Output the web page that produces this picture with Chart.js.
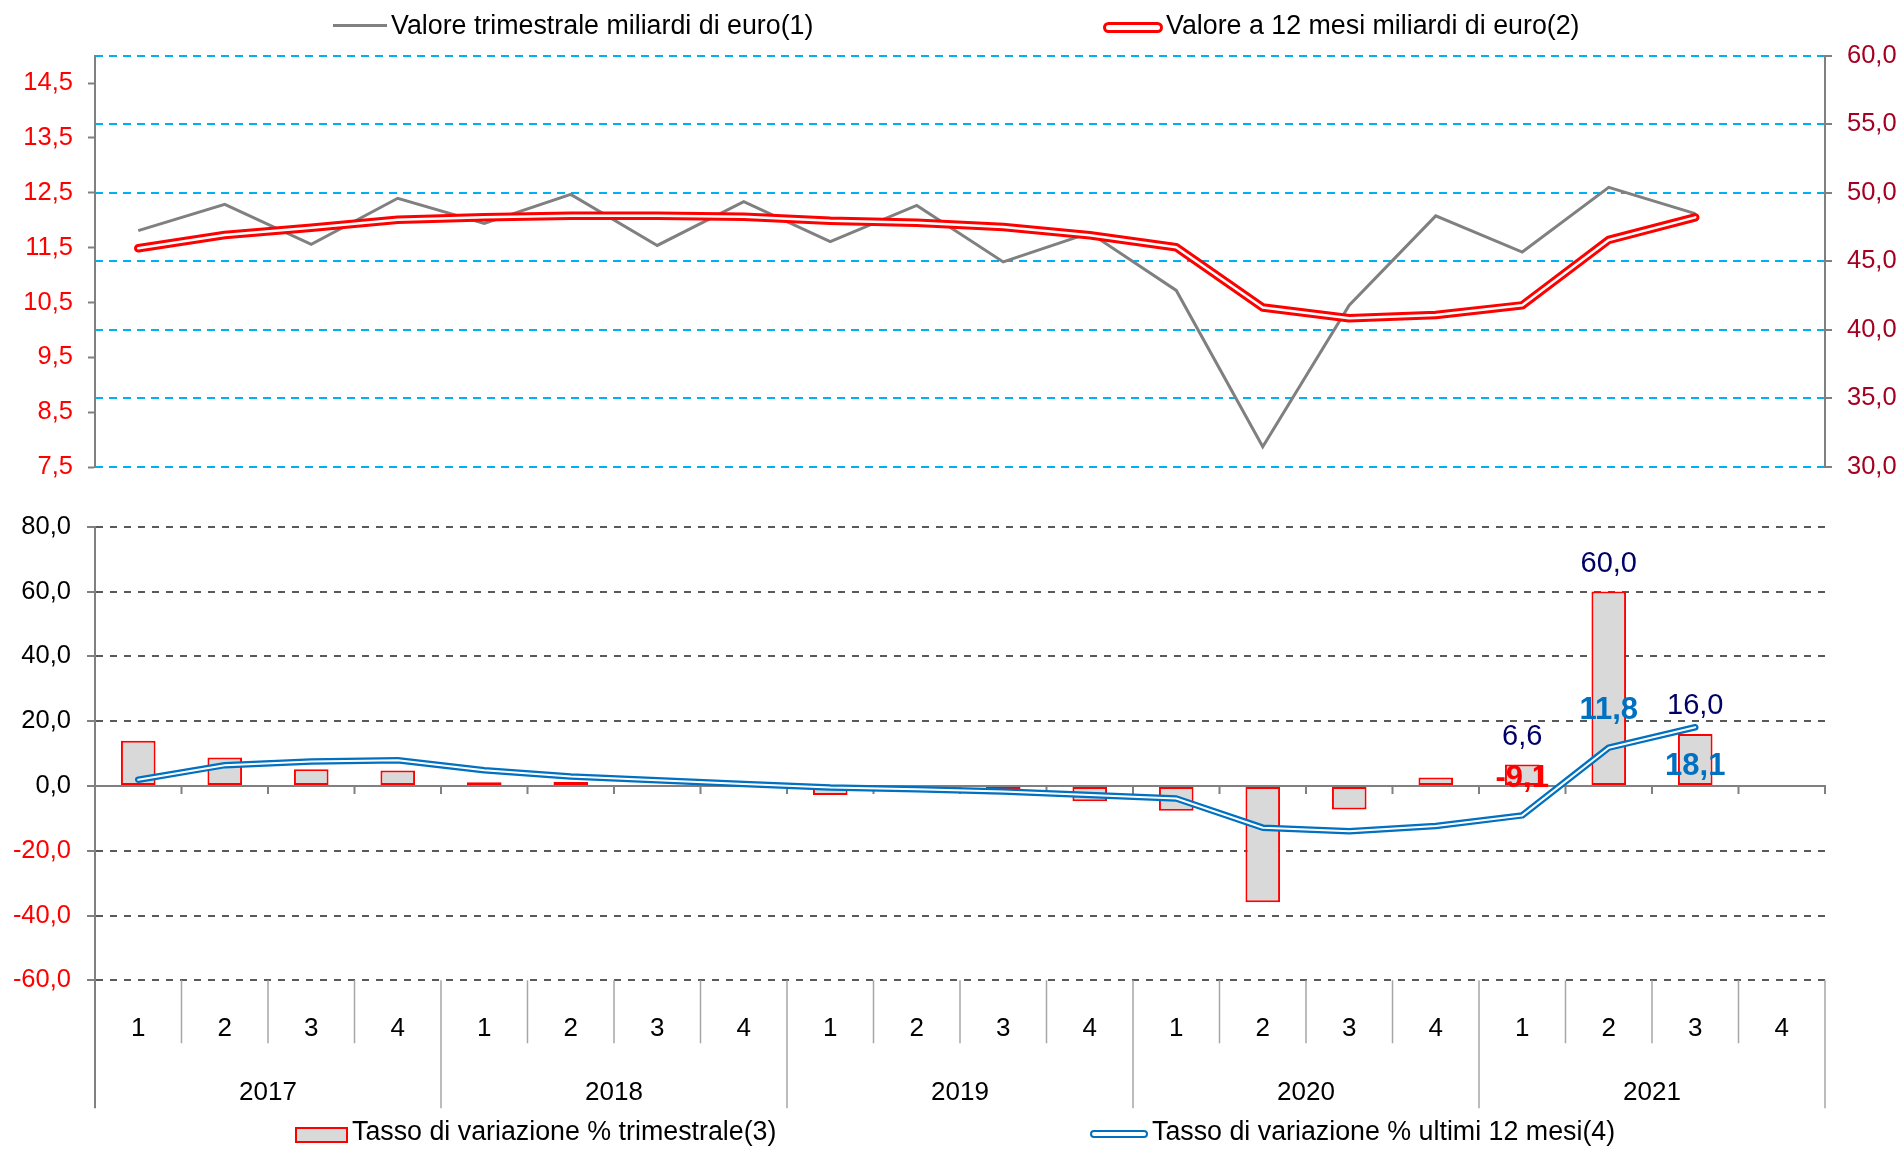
<!DOCTYPE html>
<html>
<head>
<meta charset="utf-8">
<script src="https://cdn.jsdelivr.net/npm/chart.js@4.4.1/dist/chart.umd.min.js"></script>
<style>
  body { margin: 0; background: #fff; font-family: "Liberation Sans", Arial, sans-serif; }
  #wrap { position: relative; width: 1903px; height: 1149px; overflow: hidden; }
  canvas { position: absolute; left: 0; }
  #top { top: 0; }
  #bottom { top: 490px; }
  .leg { position: absolute; font-size: 26.8px; line-height: 30px; color: #000; white-space: nowrap; }
  .mk { position: absolute; box-sizing: border-box; }
</style>
</head>
<body>
<div id="wrap">
  <canvas id="top" width="1903" height="500"></canvas>
  <canvas id="bottom" width="1903" height="659"></canvas>

  <div class="mk" style="left:333px;top:24px;width:54px;height:3px;background:#808080"></div>
  <div class="leg" style="left:391px;top:10px">Valore trimestrale miliardi di euro(1)</div>
  <div class="mk" style="left:1103px;top:22px;width:60px;height:11px;border:3.5px solid #ff0000;border-radius:6px;background:#fff"></div>
  <div class="leg" style="left:1166px;top:10px">Valore a 12 mesi miliardi di euro(2)</div>

  <div class="mk" style="left:295px;top:1127px;width:53px;height:16px;border:2px solid #ff0000;background:#d9d9d9"></div>
  <div class="leg" style="left:352px;top:1116px">Tasso di variazione % trimestrale(3)</div>
  <div class="mk" style="left:1090px;top:1130px;width:58px;height:8px;border:2.5px solid #0070c0;border-radius:4px;background:#fff"></div>
  <div class="leg" style="left:1152px;top:1116px">Tasso di variazione % ultimi 12 mesi(4)</div>
</div>

<script>
// categorie: trimestri 2017-2021
const years = ["2017", "2018", "2019", "2020", "2021"];
const quarters = ["1", "2", "3", "4"];
const categories = years.flatMap((y) => quarters.map((q) => y + " T" + q));

// valore trimestrale, miliardi di euro (asse sinistro)
const valoreTrim = [11.81, 12.29, 11.56, 12.40, 11.94, 12.47, 11.54, 12.34, 11.61, 12.27,
  11.24, 11.77, 10.72, 7.87, 10.45, 12.08, 11.42, 12.60, 12.12, null];
// valore a 12 mesi, miliardi di euro (asse destro)
const valore12 = [45.95, 46.92, 47.45, 48.04, 48.21, 48.33, 48.33, 48.26, 47.97, 47.82,
  47.5, 46.9, 46.03, 41.63, 40.85, 41.09, 41.79, 46.56, 48.21, null];
// tasso di variazione % trimestrale (barre)
const tassoTrim = [13.9, 8.75, 5.15, 4.74, 1.13, 1.24, -0.2, -0.3, -2.8, -1.4,
  -2.6, -4.7, -7.7, -35.9, -7.3, 2.6, 6.6, 60.0, 16.0, null];
// tasso di variazione % ultimi 12 mesi (linea)
const tasso12 = [1.9, 6.4, 7.5, 7.9, 4.8, 2.9, 1.75, 0.6, -0.5, -1.0,
  -1.75, -2.8, -3.9, -12.9, -14.0, -12.4, -9.1, 11.8, 18.1, null];

// tick labels
const leftTicks = [7.5, 8.5, 9.5, 10.5, 11.5, 12.5, 13.5, 14.5];
// punti con etichetta
const labelled = [16, 17, 18];

const FONT = '"Liberation Sans", Arial, sans-serif';
const fmt = (v) => v.toFixed(1).replace(".", ",");

Chart.defaults.font.family = FONT;

// ---------- grafico superiore ----------
new Chart(document.getElementById("top"), {
  type: "line",
  data: {
    labels: categories,
    datasets: [
      { data: valore12, yAxisID: "yR", borderColor: "#ffffff", borderWidth: 2.5, order: 0 },
      { data: valore12, yAxisID: "yR", borderColor: "#ff0000", borderWidth: 8.5, order: 1 },
      { data: valoreTrim, yAxisID: "yL", borderColor: "#808080", borderWidth: 3, order: 2, borderCapStyle: "butt", borderJoinStyle: "miter" },
    ],
  },
  options: {
    responsive: false,
    animation: false,
    devicePixelRatio: 1,
    events: [],
    layout: { padding: { top: 55.7, bottom: 33, left: 0, right: 0 } },
    elements: {
      point: { radius: 0 },
      line: { tension: 0, borderCapStyle: "round", borderJoinStyle: "round" },
    },
    plugins: { legend: { display: false }, tooltip: { enabled: false } },
    scales: {
      x: { type: "category", offset: true, display: false },
      yL: {
        position: "left",
        min: 7.5,
        max: 15,
        afterBuildTicks: (s) => { s.ticks = leftTicks.map((v) => ({ value: v })); },
        afterFit: (s) => { s.width = 95; },
        grid: { drawOnChartArea: false, tickLength: 7, tickColor: "#808080", tickWidth: 2 },
        border: { color: "#808080", width: 2 },
        ticks: { color: "#ff0000", font: { size: 25.5 }, padding: 15, callback: (v) => fmt(v) },
      },
      yR: {
        position: "right",
        min: 30,
        max: 60,
        afterFit: (s) => { s.width = 78; },
        grid: { color: "#00b0f0", lineWidth: 2, tickLength: 7, tickColor: "#808080", tickWidth: 2 },
        border: { color: "#808080", width: 2, dash: [8, 6] },
        ticks: { stepSize: 5, color: "#a50021", font: { size: 25.5 }, padding: 15, callback: (v) => fmt(v) },
      },
    },
  },
});

// ---------- grafico inferiore ----------
const edge = (x, k) => x.getPixelForValue(k - 0.5);

const zeroAxis = {
  id: "zeroAxis",
  afterDatasetDraw(chart, args) {
    if (args.meta.type !== "bar") return;
    const { ctx, chartArea: a, scales: { x, y } } = chart;
    const y0 = y.getPixelForValue(0);
    ctx.save();
    ctx.strokeStyle = "#808080";
    ctx.lineWidth = 2;
    ctx.beginPath();
    ctx.moveTo(a.left, y0);
    ctx.lineTo(a.right + 1, y0);
    for (let k = 1; k <= categories.length; k++) {
      const bx = Math.min(edge(x, k), a.right);
      ctx.moveTo(bx, y0);
      ctx.lineTo(bx, y0 + 8);
    }
    ctx.stroke();
    ctx.restore();
  },
};

const valueLabels = {
  id: "valueLabels",
  afterDatasetsDraw(chart) {
    const { ctx, scales: { x, y } } = chart;
    ctx.save();
    ctx.textAlign = "center";
    ctx.textBaseline = "middle";
    labelled.forEach((i) => {
      const cx = x.getPixelForValue(i);
      const bar = tassoTrim[i];
      const line = tasso12[i];
      ctx.font = "29px " + FONT;
      ctx.fillStyle = "#000066";
      ctx.fillText(fmt(bar), cx, y.getPixelForValue(bar) - 28);
      ctx.font = "bold 31px " + FONT;
      ctx.fillStyle = line < 0 ? "#ff0000" : "#0070c0";
      ctx.fillText(fmt(line), cx, y.getPixelForValue(line) + (line > bar ? 39 : -37));
    });
    ctx.restore();
  },
};

const categoryBox = {
  id: "categoryBox",
  afterDraw(chart) {
    const { ctx, chartArea: a, scales: { x } } = chart;
    const n = categories.length;
    ctx.save();
    ctx.strokeStyle = "#a6a6a6";
    ctx.lineWidth = 1.5;
    ctx.beginPath();
    for (let k = 1; k <= n; k++) {
      const bx = Math.min(edge(x, k), a.right);
      ctx.moveTo(bx, a.bottom);
      ctx.lineTo(bx, a.bottom + (k % 4 === 0 ? 128 : 63));
    }
    ctx.stroke();
    ctx.strokeStyle = "#808080";
    ctx.lineWidth = 2;
    ctx.beginPath();
    ctx.moveTo(a.left, a.bottom);
    ctx.lineTo(a.left, a.bottom + 128);
    ctx.stroke();
    ctx.fillStyle = "#000";
    ctx.font = "26px " + FONT;
    ctx.textAlign = "center";
    ctx.textBaseline = "middle";
    years.forEach((yr, j) => {
      const cx = (edge(x, j * 4) + edge(x, j * 4 + 4)) / 2;
      ctx.fillText(yr, cx, a.bottom + 113);
    });
    ctx.restore();
  },
};

new Chart(document.getElementById("bottom"), {
  data: {
    labels: categories,
    datasets: [
      { type: "line", data: tasso12, borderColor: "#ffffff", borderWidth: 2, order: 0 },
      { type: "line", data: tasso12, borderColor: "#0070c0", borderWidth: 6.5, order: 1 },
      {
        type: "bar",
        data: tassoTrim,
        backgroundColor: "#d9d9d9",
        borderColor: "#ff0000",
        borderWidth: 2,
        borderSkipped: false,
        barPercentage: 0.4,
        categoryPercentage: 1,
        order: 2,
      },
    ],
  },
  options: {
    responsive: false,
    animation: false,
    devicePixelRatio: 1,
    events: [],
    layout: { padding: { top: 36.7, bottom: 40.7, left: 0, right: 78 } },
    elements: {
      point: { radius: 0 },
      line: { tension: 0, borderCapStyle: "round", borderJoinStyle: "round" },
    },
    plugins: { legend: { display: false }, tooltip: { enabled: false } },
    scales: {
      x: {
        type: "category",
        offset: true,
        grid: { display: false, drawTicks: false },
        border: { display: false },
        afterFit: (s) => { s.height = 128; },
        ticks: {
          color: "#000",
          font: { size: 26 },
          padding: 33,
          autoSkip: false,
          maxRotation: 0,
          callback: (v, i) => quarters[i % 4],
        },
      },
      y: {
        min: -60,
        max: 80,
        afterFit: (s) => { s.width = 95; },
        grid: {
          color: (c) => (c.tick && c.tick.value === 0 ? "rgba(0,0,0,0)" : "#595959"),
          lineWidth: 2,
          tickLength: 8,
          tickColor: "#808080",
          tickWidth: 2,
        },
        border: { color: "#808080", width: 2, dash: [7, 7] },
        ticks: {
          stepSize: 20,
          color: (c) => (c.tick.value < 0 ? "#ff0000" : "#000000"),
          font: { size: 25.5 },
          padding: 16,
          callback: (v) => fmt(v),
        },
      },
    },
  },
  plugins: [zeroAxis, valueLabels, categoryBox],
});
</script>
</body>
</html>
